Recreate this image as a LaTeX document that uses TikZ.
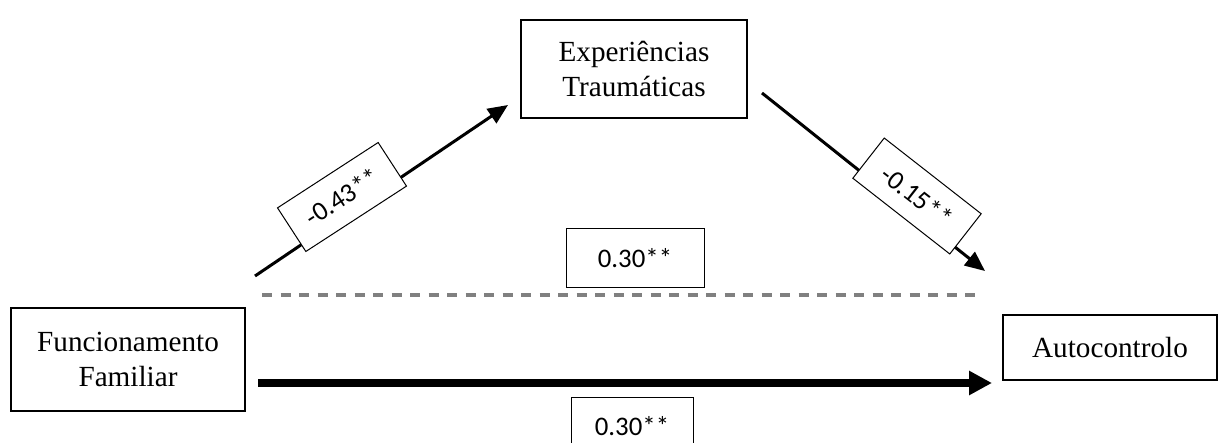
\documentclass[tikz,border=0pt]{standalone}
\usepackage{fontspec}
\setmainfont{Liberation Serif}
\newfontfamily\lblfont{Carlito}
\usepackage{tikz}
\usetikzlibrary{arrows,arrows.meta,positioning}

\begin{document}
\begin{tikzpicture}
			\definecolor{dashColour}{RGB}{128, 128, 128}
			\tikzstyle{varbox}=[rectangle, draw, line width=0.85pt, align=center, inner sep=0pt, font=\fontsize{14.6}{17.5}\selectfont]
			\tikzstyle{coefbox}=[rectangle, draw, line width=0.5pt, fill=white, inner sep=0pt, font=\lblfont\fontsize{13.4}{16}\selectfont]
			\tikzstyle{effect}=[line width=1.5pt, -{Triangle[length=10pt, width=8.5pt]}]

			\clip (0pt,0pt) rectangle (612.5pt,-221.5pt);

			\node [varbox, minimum width=117pt, minimum height=51.5pt, xshift=64pt, yshift=-179.75pt] (func) {Funcionamento\\Familiar};
			\node [varbox, minimum width=113pt, minimum height=49pt, xshift=317pt, yshift=-34.5pt] (exp) {Experiências\\Traumáticas};
			\node [varbox, minimum width=107pt, minimum height=32.5pt, xshift=555pt, yshift=-173.75pt] (auto) {Autocontrolo};

			\coordinate [xshift=127.5pt, yshift=-138pt] (s1);
			\coordinate [xshift=254pt, yshift=-52.5pt] (t1);
			\coordinate [xshift=381pt, yshift=-46.5pt] (s2);
			\coordinate [xshift=492.5pt, yshift=-135.5pt] (t2);
			\coordinate [xshift=131pt, yshift=-147.5pt] (s3);
			\coordinate [xshift=491.5pt, yshift=-147.5pt] (t3);
			\coordinate [xshift=129pt, yshift=-191.5pt] (s4);
			\coordinate [xshift=496pt, yshift=-191.5pt] (t4);

			\draw [effect] (s1) -- (t1);
			\draw [effect] (s2) -- (t2);
			\draw [line width=1.6pt, color=dashColour, dash pattern=on 5pt off 4.25pt] (s3) -- (t3);
			\draw [line width=4pt, -{Triangle[length=11.5pt, width=11.5pt]}] (s4) -- (t4);

			\node [coefbox, minimum width=60pt, minimum height=26pt, xshift=171pt, yshift=-98.5pt, rotate=33] (ab) {-0.43**};
			\node [coefbox, minimum width=61.5pt, minimum height=25.5pt, xshift=458.5pt, yshift=-98pt, rotate=-38] (bc) {-0.15**};
			\node [coefbox, minimum width=69pt, minimum height=29pt, xshift=317.5pt, yshift=-129pt] (ind) {0.30**};
			\node [coefbox, minimum width=61pt, minimum height=29pt, xshift=316pt, yshift=-213pt] (dir) {0.30**};
		\end{tikzpicture}
\end{document}
